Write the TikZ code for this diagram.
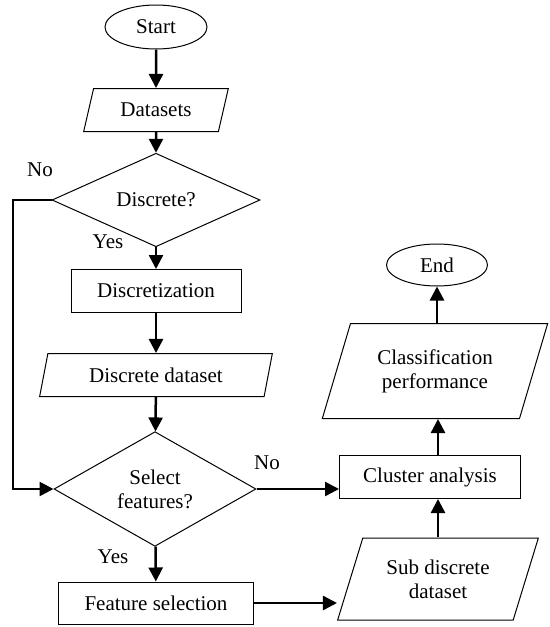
\documentclass[tikz,border=0pt]{standalone}
\usepackage{fontspec}
\setmainfont{Liberation Serif}
\usetikzlibrary{shapes.geometric,arrows.meta}

\tikzset{
  startstop/.style={ellipse,draw,line width=0.5pt,minimum width=51pt,minimum height=22pt,inner sep=0pt},
  process/.style={rectangle,draw,line width=0.5pt,minimum height=21.5pt,inner sep=0pt},
  io/.style={trapezium,trapezium stretches=true,trapezium left angle=68,trapezium right angle=112,draw,line width=0.5pt,inner sep=0pt,align=center},
  decision/.style={diamond,draw,line width=0.5pt,inner sep=0pt,align=center},
  flow/.style={line width=1.25pt,-{Triangle[length=7pt,width=7pt]}}
}

\begin{document}
\begin{tikzpicture}[x=0.5pt,y=-0.5pt,font=\fontsize{10.5}{12}\selectfont]
\useasboundingbox (0,0) rectangle (550,627);
% left column
\node[startstop] (start) at (156,27) {Start};
\node[io,minimum width=72.5pt,minimum height=21.5pt] (ds) at (156,110) {Datasets};
\node[decision,minimum width=104pt,minimum height=30pt] (disc) at (156,200) {Discrete?};
\node[process,minimum width=85pt] (dsc) at (156,291) {Discretization};
\node[io,minimum width=116.5pt,minimum height=21.5pt,trapezium left angle=71,trapezium right angle=109] (dds) at (156,375) {Discrete dataset};
\node[decision,minimum width=101pt,minimum height=56pt] (sel) at (155,489) {Select\\features?};
\node[process,minimum width=97.5pt,minimum height=21pt] (fsel) at (156,603) {Feature selection};
% right column
\node[io,minimum width=100.5pt,minimum height=41pt,trapezium left angle=66,trapezium right angle=114] (sub) at (438,579) {Sub discrete\\dataset};
\node[process,minimum width=90.5pt] (clus) at (430,477) {Cluster analysis};
\node[io,minimum width=113.5pt,minimum height=47.5pt,trapezium left angle=66,trapezium right angle=114] (cls) at (435,371) {Classification\\performance};
\node[startstop,minimum width=50.5pt,minimum height=21pt] (end) at (437,265) {End};
% labels
\node (nodisc) at (40,170) {No};
\node (yesdisc) at (108,242) {Yes};
\node (nosel) at (267,463) {No};
\node (yessel) at (113,557) {Yes};
\coordinate (nocorner) at (13,200);
% connectors
\draw[flow] (start) -- (ds);
\draw[flow] (ds) -- (disc);
\draw[flow] (disc) -- (dsc);
\draw[flow] (dsc) -- (dds);
\draw[flow] (dds) -- (sel);
\draw[flow] (disc.west) -- (nocorner) |- (sel.west);
\draw[flow] (sel) -- (fsel);
\draw[flow] (sel.east) -- (sel.east -| clus.west);
\draw[flow] (fsel.east) -- (fsel.east -| sub.bottom left corner);
\draw[flow] (sub.north) -- (sub.north |- clus.south);
\draw[flow] (sub.north |- clus.north) -- (sub.north |- cls.south);
\draw[flow] (end.south |- cls.north) -- (end);
\end{tikzpicture}
\end{document}
